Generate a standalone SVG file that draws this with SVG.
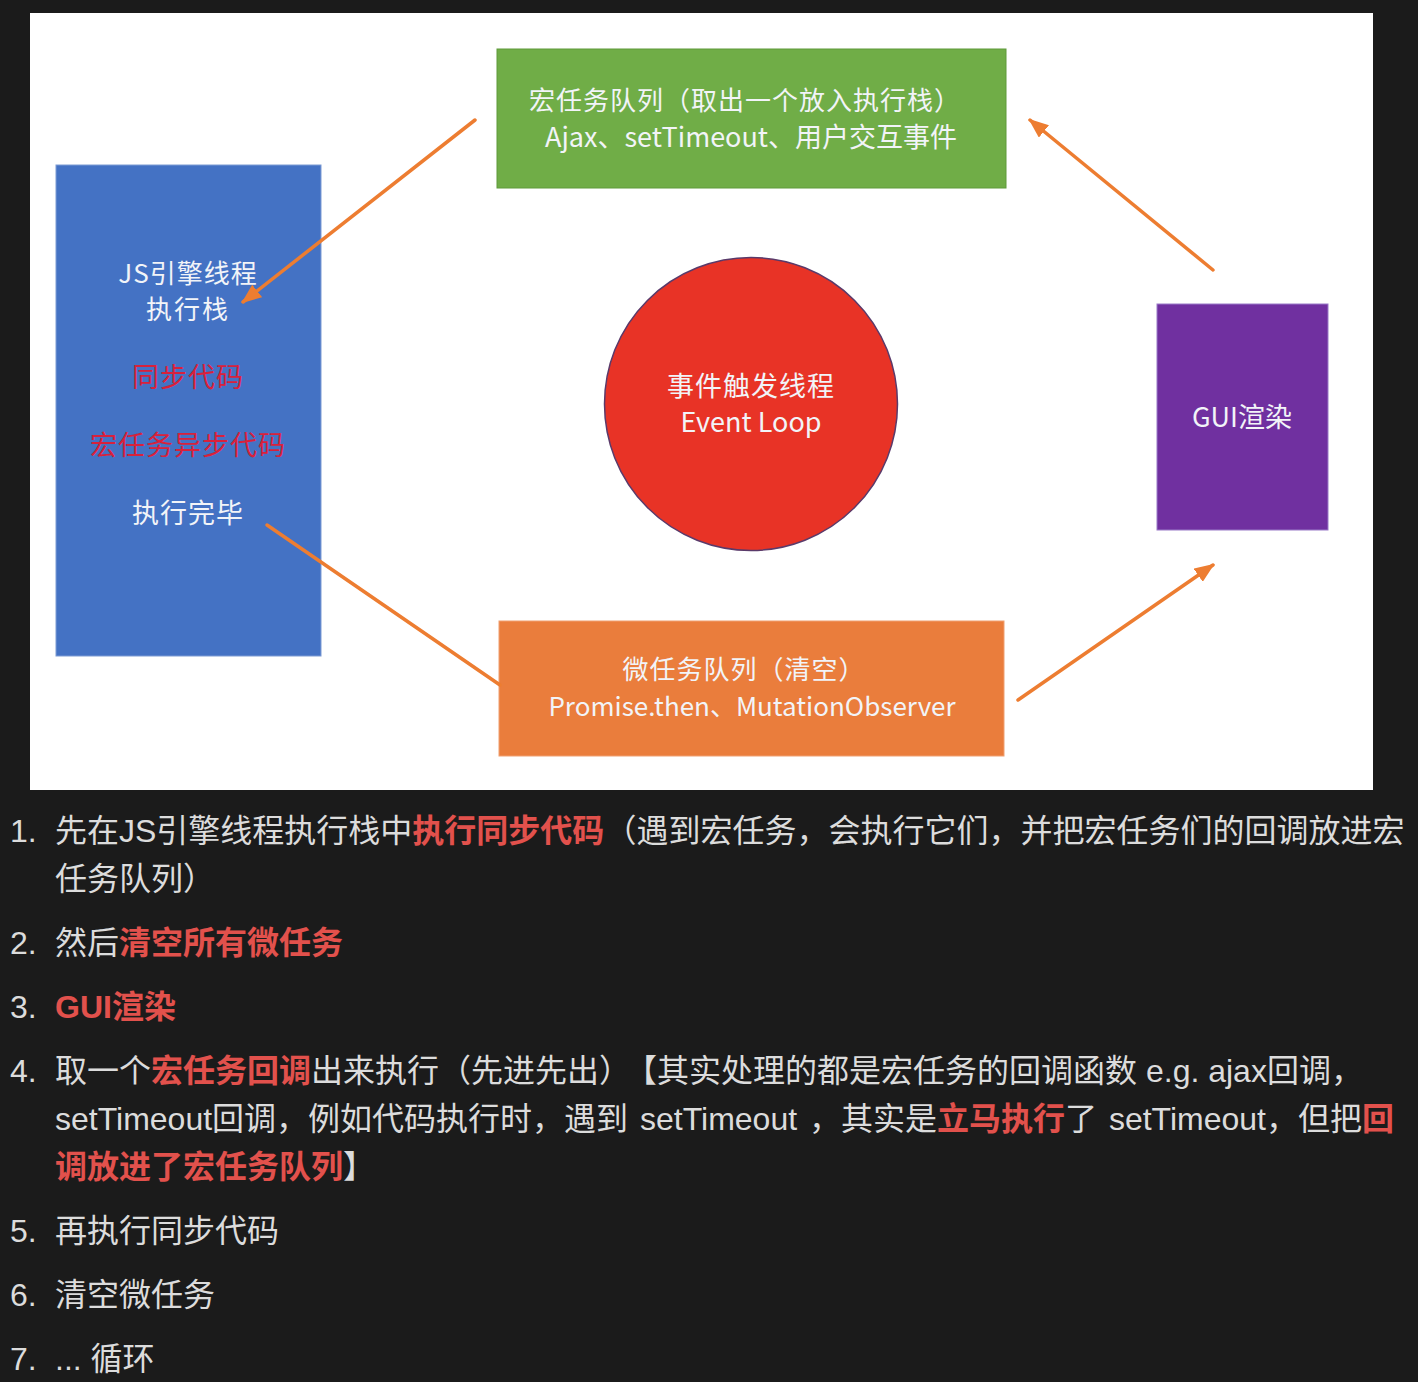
<svg xmlns="http://www.w3.org/2000/svg" width="1418" height="1382" viewBox="0 0 1418 1382">
<defs>
<marker id="ah" markerUnits="userSpaceOnUse" markerWidth="20" markerHeight="16" refX="18" refY="8" orient="auto">
<path d="M0,0 L20,8 L0,16 Z" fill="#ed7d31"/>
</marker>
</defs>
<style>
.bg{fill:#1b1b1b}
.d{font-family:"Noto Sans CJK SC","Noto Sans",sans-serif;text-anchor:middle}
.w{fill:#f2f4f8}
.r{fill:#d8213b}
.conn line{stroke:#ed7d31;stroke-width:3.5;stroke-linecap:round}
.t{font-family:"Liberation Sans","Noto Sans CJK SC",sans-serif;font-size:32px;fill:#dcdcdc}
.hl{fill:#e2514c;font-weight:bold}
</style>
<rect class="bg" x="0" y="0" width="1418" height="1382"/>
<rect x="30" y="13" width="1343" height="777" fill="#ffffff"/>

<g id="js-stack">
<rect x="56" y="165" width="265" height="491" fill="#4472c4" stroke="#7d9bd4" stroke-width="1"/>
<text class="d w" x="188" y="283" font-size="26" letter-spacing="1">JS引擎线程</text>
<text class="d w" x="188" y="319" font-size="26" letter-spacing="2">执行栈</text>
<text class="d r" x="188" y="387" font-size="27" letter-spacing="1">同步代码</text>
<text class="d r" x="188" y="455" font-size="27" letter-spacing="1">宏任务异步代码</text>
<text class="d w" x="188" y="523" font-size="27" letter-spacing="1">执行完毕</text>
</g>

<g id="macro-queue">
<rect x="497" y="49" width="509" height="139" fill="#70ad47" stroke="#5e9a3a" stroke-width="1"/>
<text class="d w" x="745" y="110" font-size="26" letter-spacing="1">宏任务队列（取出一个放入执行栈）</text>
<text class="d w" x="751" y="147" font-size="27">Ajax、setTimeout、用户交互事件</text>
</g>

<g id="event-loop">
<circle cx="751" cy="404" r="146.5" fill="#e83326" stroke="#5a3a6a" stroke-width="1.5"/>
<text class="d w" x="751" y="396" font-size="27" letter-spacing="1">事件触发线程</text>
<text class="d w" x="751" y="432" font-size="27">Event Loop</text>
</g>

<g id="gui">
<rect x="1157" y="304" width="171" height="226" fill="#7030a0" stroke="#9a7ac8" stroke-width="1"/>
<text class="d w" x="1242" y="427" font-size="27">GUI渲染</text>
</g>

<g id="micro-queue">
<rect x="499" y="621" width="505" height="135" fill="#ea7d3c" stroke="#f0a070" stroke-width="1"/>
<text class="d w" x="744" y="679" font-size="26" letter-spacing="1">微任务队列（清空）</text>
<text class="d w" x="752" y="716" font-size="26">Promise.then、MutationObserver</text>
</g>

<g id="connectors" class="conn">
<line x1="475" y1="120" x2="243" y2="302" marker-end="url(#ah)"/>
<line x1="267" y1="525" x2="500" y2="685"/>
<line x1="1018" y1="700" x2="1213" y2="565" marker-end="url(#ah)"/>
<line x1="1213" y1="270" x2="1030" y2="120" marker-end="url(#ah)"/>
</g>

<g id="list">
<text class="t" x="10" y="842">1.</text>
<text class="t" x="55" y="842">先在JS引擎线程执行栈中<tspan class="hl">执行同步代码</tspan>（遇到宏任务，会执行它们，并把宏任务们的回调放进宏</text>
<text class="t" x="55" y="890">任务队列）</text>
<text class="t" x="10" y="954">2.</text>
<text class="t" x="55" y="954">然后<tspan class="hl">清空所有微任务</tspan></text>
<text class="t" x="10" y="1018">3.</text>
<text class="t" x="55" y="1018"><tspan class="hl">GUI渲染</tspan></text>
<text class="t" x="10" y="1082">4.</text>
<text class="t" x="55" y="1082">取一个<tspan class="hl">宏任务回调</tspan>出来执行（先进先出）<tspan dx="10">【其实处理的都是宏任务的回调函数 e.g. ajax回调，</tspan></text>
<text class="t" x="55" y="1130" word-spacing="3">setTimeout回调，例如代码执行时，遇到 setTimeout ，其实是<tspan class="hl">立马执行</tspan>了 setTimeout，但把<tspan class="hl">回</tspan></text>
<text class="t" x="55" y="1178"><tspan class="hl">调放进了宏任务队列</tspan>】</text>
<text class="t" x="10" y="1242">5.</text>
<text class="t" x="55" y="1242">再执行同步代码</text>
<text class="t" x="10" y="1306">6.</text>
<text class="t" x="55" y="1306">清空微任务</text>
<text class="t" x="10" y="1370">7.</text>
<text class="t" x="55" y="1370">... 循环</text>
</g>
</svg>
